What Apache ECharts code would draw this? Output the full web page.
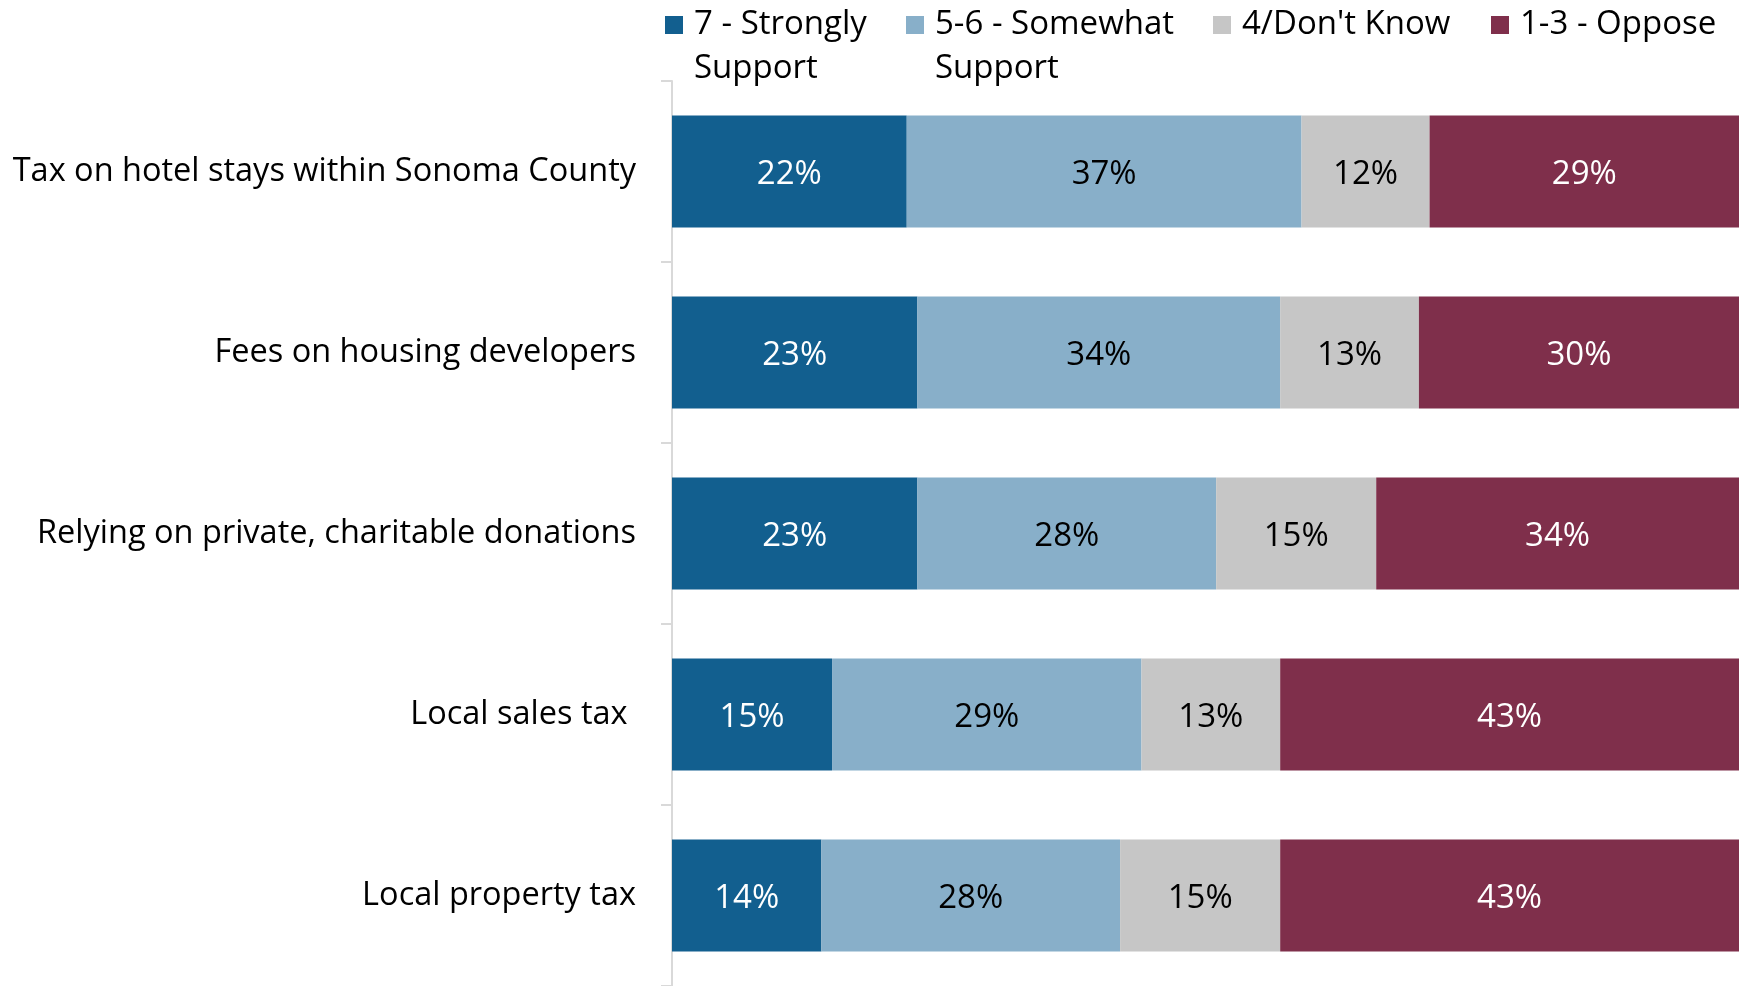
<!DOCTYPE html>
<html><head><meta charset="utf-8">
<script src="https://cdn.jsdelivr.net/npm/echarts@6/dist/echarts.min.js"></script>
<style>html,body{margin:0;padding:0;background:#fff}#c{width:1750px;height:986px}</style>
</head><body><div id="c"></div>
<script>
const categories = ["Tax on hotel stays within Sonoma County","Fees on housing developers","Relying on private, charitable donations","Local sales tax ","Local property tax"];
const seriesNames = ["7 - Strongly\nSupport","5-6 - Somewhat\nSupport","4/Don't Know","1-3 - Oppose"];
const strongly = [22,23,23,15,14];
const somewhat = [37,34,28,29,28];
const dontKnow = [12,13,15,13,15];
const oppose = [29,30,34,43,43];
const colors = ["#125F8F","#88AFC9","#C6C6C6","#7F2F4B"];
const labelColors = ["#fff","#000","#000","#fff"];
const values = [strongly, somewhat, dontKnow, oppose];
const FONT = "Open Sans";
const FS = 33;
const LH = 44;
const legendLefts = [665, 906, 1213, 1491];
const iconCenterY = 25;

const graphics = [];
seriesNames.forEach((n,i)=>{
  const lines = n.split('\n');
  lines.slice(1).forEach((ln,k)=>{
    graphics.push({type:'text', left:legendLefts[i]+18+11, top:iconCenterY + LH*(k+1) - LH/2,
      style:{text:ln, fontFamily:FONT, fontSize:FS, fill:'#000', lineHeight:LH}});
  });
});

const chart = echarts.init(document.getElementById('c'));
chart.setOption({
  animation:false,
  textStyle:{fontFamily:FONT},
  legend: seriesNames.map((n,i)=>({
    data:[n], left:legendLefts[i], top:iconCenterY - LH/2, padding:0,
    itemWidth:18, itemHeight:18, itemGap:0, icon:'rect', selectedMode:false,
    formatter: s => s.split('\n')[0],
    textStyle:{fontFamily:FONT, fontSize:FS, color:'#000', lineHeight:LH, padding:[0,0,0,6]},
    align:'left'
  })),
  graphic: graphics,
  grid:{left:672, right:11, top:81, height:907, containLabel:false},
  xAxis:{type:'value', min:0, max:100, show:false},
  yAxis:{type:'category', data:categories, inverse:true,
    axisLine:{show:true, lineStyle:{color:'#D9D9D9', width:2}},
    axisTick:{show:true, length:11, lineStyle:{color:'#D9D9D9', width:2}},
    axisLabel:{fontFamily:FONT, fontSize:32.5, color:'#000', margin:36}
  },
  series: values.map((v,i)=>({
    name:seriesNames[i], type:'bar', stack:'t', data:v, barCategoryGap:'38%',
    itemStyle:{color:colors[i]},
    label:{show:true, position:'inside', offset:[0,3], formatter:'{c}%', fontFamily:FONT, fontSize:FS, color:labelColors[i]}
  }))
});
</script></body></html>
